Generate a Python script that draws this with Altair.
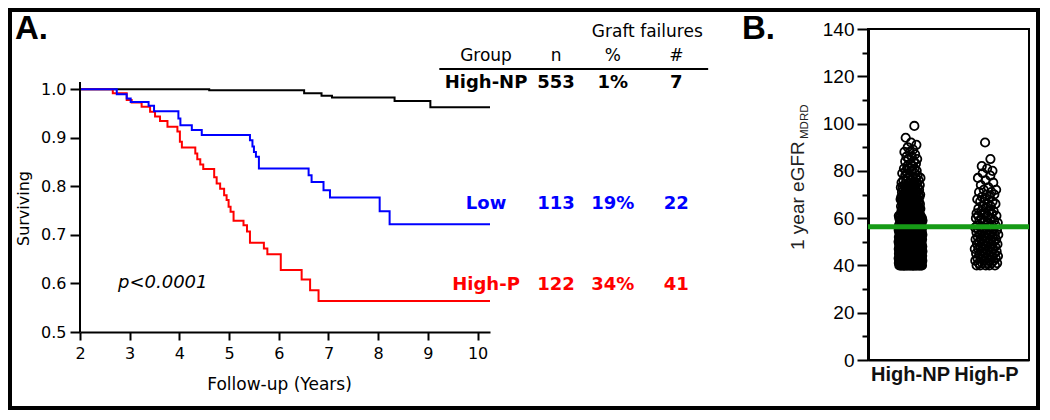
import altair as alt
import pandas as pd

# ---------------- Panel A: Kaplan-Meier survival ----------------
hnp_t = [2.0, 4.6, 6.51, 6.86, 7.07, 8.33, 9.05, 10.25]
hnp_s = [1.0, 0.998, 0.992, 0.987, 0.983, 0.976, 0.963, 0.963]

low_t = [2.0, 2.74, 2.94, 3.02, 3.38, 3.49, 3.98, 4.02, 4.25, 4.45, 5.42, 5.47,
         5.50, 5.54, 5.60, 6.60, 6.66, 6.90, 7.03, 8.03, 8.23, 10.25]
low_s = [1.0, 0.990, 0.981, 0.974, 0.966, 0.955, 0.940, 0.926, 0.916, 0.906, 0.895, 0.882,
         0.871, 0.861, 0.837, 0.823, 0.809, 0.792, 0.777, 0.749, 0.722, 0.722]

hp_t = [2.0, 2.66, 2.94, 3.04, 3.24, 3.41, 3.51, 3.61, 3.76, 3.96, 4.01, 4.05, 4.32,
        4.36, 4.42, 4.48, 4.70, 4.75, 4.82, 4.90, 4.95, 4.99, 5.03, 5.09, 5.29, 5.36,
        5.42, 5.70, 5.77, 6.04, 6.46, 6.63, 6.80, 10.25]
hp_s = [1.0, 0.992, 0.978, 0.973, 0.964, 0.954, 0.944, 0.935, 0.923, 0.913, 0.892, 0.880, 0.868,
        0.856, 0.845, 0.836, 0.819, 0.806, 0.795, 0.782, 0.772, 0.758, 0.748, 0.729, 0.720, 0.707,
        0.684, 0.672, 0.660, 0.628, 0.608, 0.586, 0.564, 0.564]

groups = ["High-NP", "Low", "High-P"]
group_colors = ["#000000", "#0000ff", "#ff0000"]
n_patients = ["553", "113", "122"]
fail_pct = ["1%", "19%", "34%"]
fail_num = ["7", "22", "41"]
header = ["Group", "n", "%", "#"]
p_value = "p<0.0001"

# ---------------- Panel B: 1 year eGFR strip plot ----------------
egfr_min = 40
np_counts = [23, 25, 24, 24, 21, 22, 22, 21, 21, 20, 20, 19, 19, 18, 18, 16, 15, 14, 14, 13,
             11, 11, 10, 10, 9, 9, 8, 8, 8, 7, 7, 6, 6, 6, 5, 4, 4, 4, 3, 3,
             3, 3, 2, 2, 2, 2, 2, 1, 2, 1, 1, 1, 1, 0, 1, 0, 0, 0, 0, 1]
p_counts = [5, 5, 4, 4, 4, 4, 4, 4, 4, 4, 4, 4, 4, 4, 4, 4, 4, 4, 3, 3,
            3, 3, 3, 3, 2, 2, 2, 2, 2, 2, 2, 2, 2, 1, 1, 1, 1, 1, 1, 1,
            1, 1, 1, 0, 0, 1, 0, 0, 0, 0, 0, 0, 1, 0]
egfr_ref = [56.4]
b_groups = ["High-NP", "High-P"]

# ---------------- layout constants ----------------
FA = "DejaVu Sans"
FB = "Liberation Sans"
X_DOM = [2, 10.25]
Y_DOM = [0.5, 1.1243]
COL_X = [10.17, 11.58, 12.72, 14.0]
ROW_S = [1.002, 0.7526, 0.5862]

xs = alt.Scale(domain=X_DOM, nice=False, zero=False)
ys = alt.Scale(domain=Y_DOM, nice=False, zero=False)

km = pd.concat([
    pd.DataFrame({"t": hnp_t, "s": hnp_s, "g": "High-NP"}),
    pd.DataFrame({"t": low_t, "s": low_s, "g": "Low"}),
    pd.DataFrame({"t": hp_t, "s": hp_s, "g": "High-P"}),
])

x_axis = alt.Axis(values=list(range(2, 11)), title="Follow-up (Years)",
                  labelFont=FA, labelFontSize=16, labelColor="black", labelPadding=5,
                  labelFlush=False, titleFont=FA, titleFontSize=17, titleFontWeight="normal",
                  titleColor="black", titleY=44, titleX=199, titleBaseline="top",
                  tickSize=8, tickWidth=2, tickColor="black", domainWidth=2,
                  domainColor="black", grid=False)
y_axis = alt.Axis(values=[0.5, 0.6, 0.7, 0.8, 0.9, 1.0], format=".1f", title="Surviving",
                  labelFont=FA, labelFontSize=16, labelColor="black", labelPadding=4,
                  labelFlush=False, titleFont=FA, titleFontSize=16, titleFontWeight="normal",
                  titleColor="black", titleX=-52, titleY=179, titleBaseline="alphabetic",
                  titleAlign="center", domain=False, tickSize=10, tickWidth=2,
                  tickColor="black", grid=False)

XA = alt.X("t:Q", scale=xs, axis=x_axis)
YA = alt.Y("s:Q", scale=ys, axis=y_axis)


def km_layer(name, color):
    return alt.Chart(km).transform_filter(alt.datum.g == name).mark_line(
        interpolate="step-after", color=color, strokeWidth=2
    ).encode(x=XA, y=YA)


frame = alt.Chart(pd.DataFrame({"k": [0]})).mark_rect(
    fillOpacity=0, stroke="black", strokeWidth=4
).encode(x=alt.value(-70), x2=alt.value(958), y=alt.value(-19), y2=alt.value(379))

y_rule = alt.Chart(pd.DataFrame({"t": [2], "s": [0.5], "s2": [1.015]})).mark_rule(
    color="black", strokeWidth=2
).encode(x=XA, y=YA, y2="s2:Q")

rows = []
for i, g in enumerate(groups):
    for j, val in enumerate([g, n_patients[i], fail_pct[i], fail_num[i]]):
        rows.append({"t": COL_X[j], "s": ROW_S[i], "label": val, "col": group_colors[i]})
table_df = pd.DataFrame(rows)
head_df = pd.DataFrame({"t": COL_X, "s": [1.0584] * 4, "label": header})
gf_df = pd.DataFrame({"t": [13.415], "s": [1.1078], "label": ["Graft failures"]})
p_df = pd.DataFrame({"t": [2.765], "s": [0.5897], "label": [p_value]})
a_df = pd.DataFrame({"t": [0.691], "s": [1.1037], "label": ["A."]})


def text_layer(df, **kw):
    enc = dict(x=XA, y=YA, text="label:N")
    if "col" in df.columns:
        enc["color"] = alt.Color("col:N", scale=None)
    return alt.Chart(df).mark_text(baseline="alphabetic", **kw).encode(**enc)


table_text = text_layer(table_df, font=FA, fontSize=18, fontWeight="bold", align="center")
head_text = text_layer(head_df, font=FA, fontSize=17, align="center", color="black")
gf_text = text_layer(gf_df, font=FA, fontSize=17, align="center", color="black")
p_text = text_layer(p_df, font=FA, fontSize=18, fontStyle="italic", align="left", color="black")
a_text = text_layer(a_df, font=FB, fontSize=33, fontWeight="bold", align="left", color="black")

table_rule = alt.Chart(pd.DataFrame({"t": [9.23], "t2": [14.64], "s": [1.0419]})).mark_rule(
    color="black", strokeWidth=2
).encode(x=XA, x2="t2:Q", y=YA)

panel_a = alt.layer(
    frame, km_layer("High-NP", "#000000"), km_layer("High-P", "#ff0000"),
    km_layer("Low", "#0000ff"), y_rule, table_rule, head_text, gf_text, table_text,
    p_text, a_text
).properties(width=410, height=303)

# ---------------- Panel B ----------------
vals, grps = [], []
for name, counts in zip(b_groups, [np_counts, p_counts]):
    for k, c in enumerate(counts):
        vals += [egfr_min + k] * c
        grps += [name] * c
b_df = pd.DataFrame({"v": vals, "g": grps})

yb = alt.Scale(domain=[0, 140], nice=False, zero=True)
yb_axis = alt.Axis(values=list(range(0, 141, 10)),
                   labelExpr="datum.value % 20 == 0 ? datum.label : ''",
                   tickSize={"condition": {"test": "datum.value % 20 != 0", "value": 6}, "value": 11},
                   title=None, labelFont=FB, labelFontSize=19, labelColor="black",
                   labelPadding=3, labelFlush=False, tickWidth=2, tickColor="black",
                   domainWidth=3, domainColor="black", grid=False)
xb_axis = alt.Axis(title=None, labelAngle=0, labelFont=FB, labelFontSize=20,
                   labelFontWeight="bold", labelColor="#111111", ticks=False, labelPadding=4,
                   domainWidth=2, domainColor="black", grid=False)
YB = alt.Y("v:Q", scale=yb, axis=yb_axis)

pts = alt.Chart(b_df).transform_window(
    idx="row_number()", groupby=["g"], sort=[alt.SortField("v", order="ascending")]
).transform_calculate(
    jit="((datum.idx * 0.6180339887) % 1 - 0.5) * (datum.v < 62 ? 24 : datum.v < 80 ? 20 : 14)"
).mark_point(filled=False, size=70, strokeWidth=1.8, color="black", opacity=1).encode(
    x=alt.X("g:N", sort=b_groups, scale=alt.Scale(paddingInner=0, paddingOuter=0.06), axis=xb_axis),
    xOffset=alt.XOffset("jit:Q", scale=alt.Scale(domain=[-38, 38])),
    y=YB,
)

green = alt.Chart(pd.DataFrame({"v": egfr_ref})).mark_rule(color="#169b16", strokeWidth=5).encode(
    y=YB
)

one = pd.DataFrame({"k": [0]})
title_main = alt.Chart(one).mark_text(
    text="1 year eGFR", font=FB, fontSize=19, angle=270, align="left",
    baseline="alphabetic", color="#222222"
).encode(x=alt.value(-64), y=alt.value(221))
title_sub = alt.Chart(one).mark_text(
    text="MDRD", font=FB, fontSize=11.5, angle=270, align="left",
    baseline="alphabetic", color="#222222"
).encode(x=alt.value(-60), y=alt.value(110))
b_text = alt.Chart(one).mark_text(
    text="B.", font=FB, fontSize=33, fontWeight="bold", align="left",
    baseline="alphabetic", color="black"
).encode(x=alt.value(-126), y=alt.value(10))

panel_b = alt.layer(pts, green, title_main, title_sub, b_text).properties(
    width=161, height=331, view=alt.ViewBackground(stroke="black", strokeWidth=2)
)

chart = alt.hconcat(panel_a, panel_b, spacing=378, bounds="flush").properties(
    padding=0, background="white"
).configure_view(strokeWidth=0).configure_axis(grid=False)

chart.save("out.html", embed_options={"renderer": "svg", "actions": False})
